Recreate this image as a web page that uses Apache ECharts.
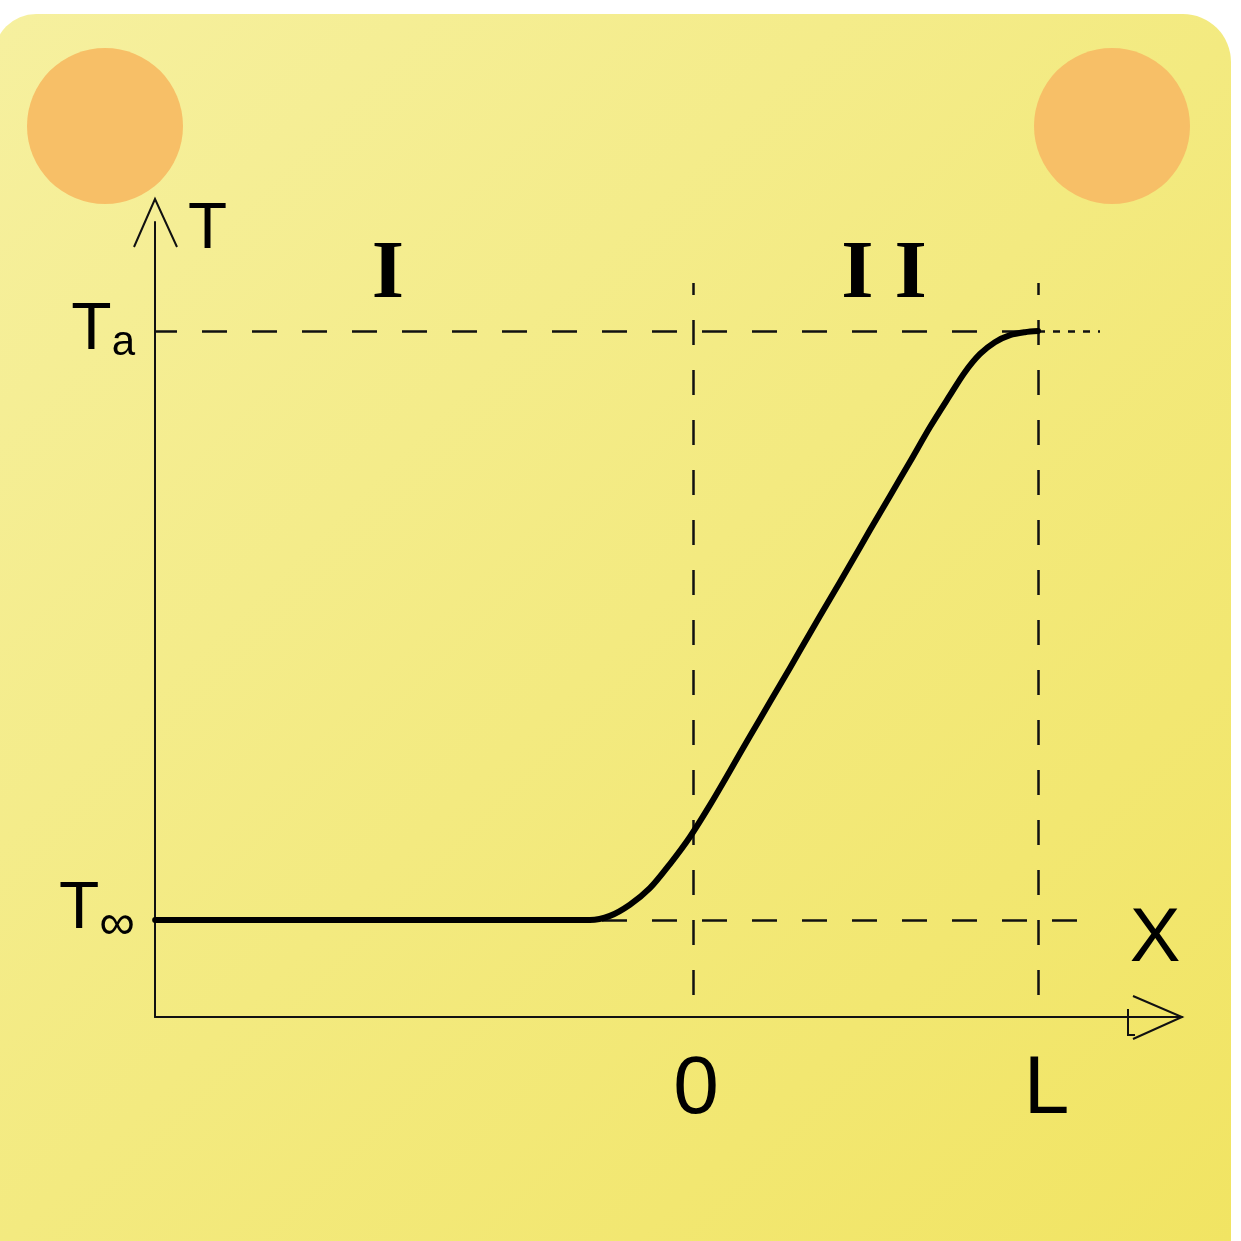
<!DOCTYPE html>
<html>
<head>
<meta charset="utf-8">
<script src="https://cdn.jsdelivr.net/npm/echarts@6/dist/echarts.min.js"></script>
<style>html,body{margin:0;padding:0;background:#fff}#c{width:1241px;height:1241px}</style>
</head>
<body>
<div id="c"></div>
<script>
// ---- data ----
const xTicks = [0, 1];
const xTickLabels = ['0', 'L'];
const yTicks = [0, 1];
const yTickLabels = ['T∞', 'Ta'];
const curveX = [-1.559, -1.139, -0.704, -0.386, -0.299, -0.241, -0.183, -0.125, -0.067, -0.009, 0.049, 0.107, 0.165, 0.223, 0.281, 0.339, 0.397, 0.455, 0.513, 0.571, 0.629, 0.687, 0.745, 0.788, 0.832, 0.875, 0.919, 0.962, 1.0];
const curveY = [0, 0, 0, 0, 0, 0.007, 0.026, 0.054, 0.095, 0.141, 0.195, 0.253, 0.312, 0.370, 0.428, 0.487, 0.545, 0.603, 0.662, 0.720, 0.778, 0.837, 0.891, 0.930, 0.961, 0.981, 0.993, 0.998, 1.0];
const regionNames = ['I', 'I I'];
const axisNameX = 'X';
const axisNameY = 'T';

// ---- layout helpers (pixel -> data) ----
const PX0 = 693, PXL = 1038, PY0 = 920, PY1 = 331;
const toX = px => (px - PX0) / (PXL - PX0);
const toY = py => (PY0 - py) / (PY0 - PY1);
const GL = 155, GR = 1182, GT = 222, GB = 1017;
const regionPos = [[toX(388), toY(276)], [toX(884), toY(276)]];
const xNamePos = [toX(1155), toY(940)];

const ink = '#111';
const chart = echarts.init(document.getElementById('c'), null, {renderer: 'canvas'});

const curveData = curveX.map((x, i) => [x, curveY[i]]);
const dashStyle = {type: [25, 25], width: 2.5, color: ink};
const labelFont = 'Liberation Sans';

const option = {
  backgroundColor: '#ffffff',
  animation: false,
  graphic: [
    {type: 'rect', z: -2, silent: true,
     shape: {x: -6, y: 14, width: 1237, height: 1260, r: [42, 48, 0, 0]},
     style: {fill: new echarts.graphic.LinearGradient(0, 0, 1, 1, [
       {offset: 0, color: '#F6F09F'}, {offset: 0.5, color: '#F3EA80'}, {offset: 1, color: '#F1E462'}])}},
    {type: 'circle', z: -1, silent: true, shape: {cx: 105, cy: 126, r: 78}, style: {fill: '#F7BF67'}},
    {type: 'circle', z: -1, silent: true, shape: {cx: 1112, cy: 126, r: 78}, style: {fill: '#F7BF67'}},
    // axis arrowheads (decoration)
    {type: 'polyline', z: 10, silent: true,
     shape: {points: [[GL - 21, GT + 25], [GL, GT - 23], [GL + 22, GT + 25]]},
     style: {stroke: ink, lineWidth: 2, fill: null}},
    {type: 'polyline', z: 10, silent: true,
     shape: {points: [[GR - 49, GB - 21], [GR, GB], [GR - 49, GB + 22]]},
     style: {stroke: ink, lineWidth: 2, fill: null}},
    {type: 'polyline', z: 10, silent: true,
     shape: {points: [[GR - 54, GB - 8], [GR - 54, GB + 18], [GR - 47, GB + 18]]},
     style: {stroke: ink, lineWidth: 2, fill: null}}
  ],
  grid: {left: GL, right: 1241 - GR, top: GT, bottom: 1241 - GB, containLabel: false, outerBoundsMode: 'none'},
  xAxis: {
    type: 'value', min: toX(GL), max: toX(GR),
    axisLine: {show: true, onZero: false, lineStyle: {color: ink, width: 2}},
    axisTick: {show: false},
    splitLine: {show: false},
    axisLabel: {
      customValues: xTicks, margin: 32, color: '#000',
      formatter: v => v === xTicks[1] ? '{l|' + xTickLabels[1] + '}' : '{z|' + xTickLabels[0] + '}',
      rich: {
        z: {fontFamily: labelFont, fontSize: 82, color: '#000', padding: [0, 0, 0, 6]},
        l: {fontFamily: labelFont, fontSize: 82, color: '#000', padding: [0, 0, 0, 17]}
      }
    }
  },
  yAxis: {
    type: 'value', min: toY(GB), max: toY(GT),
    axisLine: {show: true, onZero: false, lineStyle: {color: ink, width: 2}},
    axisTick: {show: false},
    splitLine: {show: false},
    axisLabel: {
      customValues: yTicks, margin: 20, color: '#000',
      formatter: v => v === yTicks[0]
        ? '{t0|' + yTickLabels[0][0] + '}{inf|' + yTickLabels[0].slice(1) + '}'
        : '{t|' + yTickLabels[1][0] + '}{a|' + yTickLabels[1].slice(1) + '}',
      rich: {
        t: {fontFamily: labelFont, fontSize: 66, color: '#000'},
        t0: {fontFamily: labelFont, fontSize: 66, color: '#000', padding: [0, 0, 20, 0]},
        inf: {fontFamily: labelFont, fontSize: 50, color: '#000', verticalAlign: 'bottom', padding: [0, 0, 13, 0]},
        a: {fontFamily: labelFont, fontSize: 42, color: '#000', verticalAlign: 'bottom'}
      }
    },
    name: axisNameY, nameLocation: 'end', nameGap: -8,
    nameTextStyle: {fontFamily: labelFont, fontSize: 64, color: '#000',
      align: 'left', verticalAlign: 'middle', padding: [0, 0, 0, 33]}
  },
  series: [
    {
      name: 'T(x)', type: 'line', z: 5, clip: false,
      data: curveData, showSymbol: false, smooth: 0.3,
      lineStyle: {color: '#000', width: 6, cap: 'round', join: 'round'},
      markLine: {
        silent: true, symbol: ['none', 'none'], label: {show: false}, animation: false,
        data: [
          [{coord: [xTicks[0], toY(283)], lineStyle: Object.assign({}, dashStyle, {dashOffset: 13})},
           {coord: [xTicks[0], toY(998)]}],
          [{coord: [xTicks[1], toY(283)], lineStyle: Object.assign({}, dashStyle, {dashOffset: 13})},
           {coord: [xTicks[1], toY(998)]}],
          [{coord: [toX(GL), yTicks[1]], lineStyle: Object.assign({}, dashStyle, {dashOffset: 3})}, {coord: [xTicks[1], yTicks[1]]}],
          [{coord: [xTicks[1], yTicks[1]], lineStyle: {type: [7, 8], width: 2.5, color: ink}}, {coord: [toX(1100), yTicks[1]]}],
          [{coord: [toX(GL), yTicks[0]], lineStyle: Object.assign({}, dashStyle, {dashOffset: 3})}, {coord: [toX(1077), yTicks[0]]}]
        ]
      }
    },
    {
      name: 'labels', type: 'scatter', clip: false, silent: true, symbolSize: 0,
      itemStyle: {opacity: 1},
      data: regionNames.map((n, i) => ({value: regionPos[i], name: n,
        label: {fontFamily: 'Liberation Serif', fontWeight: 'bold', fontSize: 83}}))
        .concat([{value: xNamePos, name: axisNameX,
          label: {fontFamily: labelFont, fontWeight: 'normal', fontSize: 76}}]),
      label: {show: true, position: 'inside', formatter: p => p.name, color: '#000', opacity: 1}
    }
  ]
};
chart.setOption(option);
</script>
</body>
</html>
